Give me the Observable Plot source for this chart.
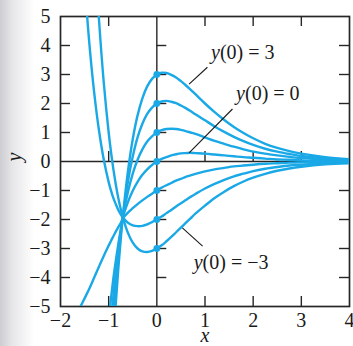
<!DOCTYPE html>
<html>
<head>
<meta charset="utf-8">
<script src="https://cdn.jsdelivr.net/npm/d3@7"></script>
<script src="https://cdn.jsdelivr.net/npm/@observablehq/plot@0.6"></script>
<style>
  html, body { margin: 0; padding: 0; }
  body {
    width: 353px; height: 346px; overflow: hidden;
    background: linear-gradient(to right, #cdcdd2 0px, #e6e6e9 12px, #ffffff 34px);
  }
</style>
</head>
<body>
<div id="chart"></div>
<script>
// Sample points of the solution curves, shared x positions
const xGrid = [-1.6, -1.5, -1.4, -1.3, -1.2, -1.1, -1.0, -0.95, -0.9, -0.85,
  -0.8, -0.75, -0.7, -0.6, -0.5, -0.4, -0.3, -0.2, -0.1, 0,
  0.1, 0.2, 0.3, 0.4, 0.5, 0.6, 0.7, 0.8, 1.0, 1.2,
  1.4, 1.6, 1.8, 2.0, 2.25, 2.5, 2.75, 3.0, 3.5, 4.0];

// y values per solution (null where the curve is off the chart)
const yFrom3 = [null, null, null, null, null, null, null, null, -6.14, -4.85,
  -3.70, -2.69, -1.80, -0.34, 0.77, 1.59, 2.18, 2.59, 2.85, 3.00,
  3.06, 3.05, 2.99, 2.90, 2.77, 2.63, 2.48, 2.32, 2.00, 1.70,
  1.43, 1.19, 0.98, 0.80, 0.61, 0.47, 0.36, 0.27, 0.15, 0.08];
const yFrom2 = [null, null, null, null, null, null, null, null, -5.16, -4.17,
  -3.29, -2.52, -1.83, -0.69, 0.17, 0.83, 1.30, 1.64, 1.86, 2.00,
  2.07, 2.09, 2.06, 2.01, 1.93, 1.84, 1.74, 1.63, 1.42, 1.21,
  1.02, 0.85, 0.70, 0.57, 0.44, 0.34, 0.26, 0.19, 0.11, 0.06];
const yFrom1 = [null, null, null, null, null, null, null, -5.50, -4.60, -3.75,
  -3.00, -2.40, -1.86, -1.05, -0.42, 0.06, 0.42, 0.69, 0.87, 1.00,
  1.08, 1.12, 1.13, 1.12, 1.09, 1.05, 1.00, 0.95, 0.83, 0.71,
  0.61, 0.51, 0.42, 0.34, 0.27, 0.21, 0.16, 0.12, 0.07, 0.04];
const yFrom0 = [null, null, null, null, null, null, -5.45, -4.70, -4.00, -3.40,
  -2.85, -2.35, -1.90, -1.40, -1.01, -0.70, -0.46, -0.27, -0.12, 0.00,
  0.09, 0.15, 0.21, 0.25, 0.28, 0.29, 0.30, 0.29, 0.27, 0.24,
  0.21, 0.18, 0.15, 0.13, 0.10, 0.07, 0.06, 0.04, 0.02, 0.01];
const yFromNeg1 = [-5.05, -4.72, -4.38, -4.00, -3.62, -3.25, -2.90, -2.73, -2.57, -2.41,
  -2.26, -2.12, -1.95, -1.76, -1.61, -1.47, -1.34, -1.22, -1.11, -1.00,
  -0.90, -0.82, -0.74, -0.66, -0.60, -0.53, -0.48, -0.43, -0.34, -0.27,
  -0.22, -0.17, -0.14, -0.11, -0.08, -0.06, -0.04, -0.03, -0.02, -0.01];
const yFromNeg2 = [null, 6.19, 4.05, 2.37, 1.06, 0.05, -0.71, -1.01, -1.27, -1.48,
  -1.67, -1.82, -1.94, -2.11, -2.20, -2.23, -2.22, -2.17, -2.09, -2.00,
  -1.90, -1.78, -1.67, -1.55, -1.44, -1.33, -1.22, -1.12, -0.93, -0.77,
  -0.63, -0.51, -0.42, -0.33, -0.25, -0.19, -0.14, -0.11, -0.06, -0.03];
const yFromNeg3 = [null, null, null, 7.65, 4.87, 2.69, 1.00, 0.31, -0.29, -0.81,
  -1.26, -1.64, -1.96, -2.46, -2.80, -3.00, -3.10, -3.12, -3.08, -3.00,
  -2.89, -2.75, -2.60, -2.44, -2.28, -2.12, -1.96, -1.80, -1.52, -1.26,
  -1.04, -0.85, -0.69, -0.56, -0.43, -0.32, -0.24, -0.18, -0.10, -0.06];

const initialValues = [3, 2, 1, 0, -1, -2, -3];
const series = [yFrom3, yFrom2, yFrom1, yFrom0, yFromNeg1, yFromNeg2, yFromNeg3];

// Axis ticks and their labels
const xTicks = [-2, -1, 0, 1, 2, 3, 4];
const xTickLabels = ["\u22122", "\u22121", "0", "1", "2", "3", "4"];
const yTicks = [-5, -4, -3, -2, -1, 0, 1, 2, 3, 4, 5];
const yTickLabels = ["\u22125", "\u22124", "\u22123", "\u22122", "\u22121", "0", "1", "2", "3", "4", "5"];
const innerXTicks = [-1, 1, 2, 3];
const innerYTicks = [-4, -3, -2, -1, 1, 2, 3, 4];

// Callout labels and their leader lines
const callouts = [
  {x: 1.31, y: 3.75, rest: "(0) = 3"},
  {x: 1.83, y: 2.34, rest: "(0) = 0"},
  {x: 0.95, y: -3.48, rest: "(0) = \u22123"}
];
const leaders = [
  {x1: 1.05, y1: 3.25, x2: 0.67, y2: 2.67},
  {x1: 1.57, y1: 1.81, x2: 0.67, y2: 0.30},
  {x1: 0.95, y1: -2.92, x2: 0.53, y2: -2.29}
];

const rows = series.flatMap((ys, i) =>
  xGrid.map((x, j) => ({x, y: ys[j], start: initialValues[i]})));
const startIndex = xGrid.indexOf(0);
const startDots = series.map(ys => ({x: xGrid[startIndex], y: ys[startIndex]}));

const serif = "'Liberation Serif', 'Times New Roman', serif";
const blue = "#1aa9e6";
const ink = "#262626";
const tx = 0.207;  // inward tick length in x units
const ty = 0.346;  // inward tick length in y units
const common = {fontFamily: serif, fontSize: 20, fill: "#1a1a1a"};

const chart = Plot.plot({
  width: 353,
  height: 346,
  marginLeft: 60,
  marginRight: 4,
  marginTop: 16,
  marginBottom: 40,
  style: {fontFamily: serif, fontSize: "20px", background: "transparent", color: "#1a1a1a"},
  x: {domain: [-2, 4], axis: null},
  y: {domain: [-5, 5], axis: null},
  marks: [
    Plot.ruleX([0], {stroke: ink, strokeWidth: 1.4}),
    Plot.ruleY([0], {stroke: ink, strokeWidth: 1.4}),
    // inward ticks on the frame and on the zero lines
    Plot.ruleY(innerYTicks, {y: d => d, x1: -2, x2: -2 + tx, stroke: ink, strokeWidth: 1.4}),
    Plot.ruleY(innerYTicks, {y: d => d, x1: 4 - tx, x2: 4, stroke: ink, strokeWidth: 1.4}),
    Plot.ruleY(innerYTicks, {y: d => d, x1: 0, x2: tx, stroke: ink, strokeWidth: 1.4}),
    Plot.ruleX(innerXTicks, {x: d => d, y1: -5, y2: -5 + ty, stroke: ink, strokeWidth: 1.4}),
    Plot.ruleX(innerXTicks, {x: d => d, y1: 5 - ty, y2: 5, stroke: ink, strokeWidth: 1.4}),
    Plot.ruleX(innerXTicks, {x: d => d, y1: 0, y2: ty, stroke: ink, strokeWidth: 1.4}),
    Plot.frame({stroke: ink, strokeWidth: 1.7}),
    // tick labels
    Plot.text(yTicks, {x: -2, y: d => d, text: (d, i) => yTickLabels[i], textAnchor: "end", dx: -10, ...common}),
    Plot.text(xTicks, {x: d => d, y: -5, text: (d, i) => xTickLabels[i], dy: 14, ...common}),
    // axis titles
    Plot.text(["x"], {frameAnchor: "bottom", lineAnchor: "middle", dy: 29, fontStyle: "italic", ...common}),
    Plot.text(["y"], {frameAnchor: "left", lineAnchor: "middle", dx: -46, rotate: -90, fontStyle: "italic", ...common}),
    // solution curves
    Plot.line(rows, {x: "x", y: "y", z: "start", stroke: blue, strokeWidth: 2.4, curve: "catmull-rom", clip: true}),
    Plot.dot(startDots, {x: "x", y: "y", r: 3.4, fill: blue}),
    // callouts
    Plot.link(leaders, {x1: "x1", y1: "y1", x2: "x2", y2: "y2", stroke: "#1a1a1a", strokeWidth: 1.1}),
    Plot.text(callouts, {x: "x", y: "y", text: () => "y", textAnchor: "end", fontStyle: "italic", ...common}),
    Plot.text(callouts, {x: "x", y: "y", text: "rest", textAnchor: "start", ...common})
  ]
});
document.getElementById("chart").append(chart);
</script>
</body>
</html>
